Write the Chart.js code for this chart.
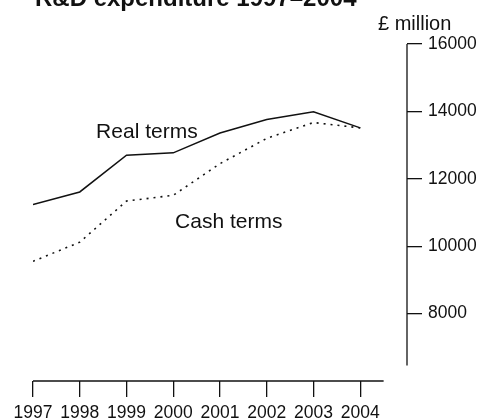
<!DOCTYPE html>
<html>
<head>
<meta charset="utf-8">
<script src="https://cdn.jsdelivr.net/npm/chart.js@4.4.1/dist/chart.umd.min.js"></script>
<style>
  html, body { margin: 0; padding: 0; background: #fff; }
  #wrap { width: 479px; height: 419px; position: relative; }
</style>
</head>
<body>
<div id="wrap"><canvas id="rdChart"></canvas></div>
<script>
const years = [1997, 1998, 1999, 2000, 2001, 2002, 2003, 2004];
const realTerms = [11240, 11610, 12700, 12770, 13360, 13760, 13990, 13510];
const cashTerms = [9550, 10120, 11340, 11510, 12450, 13200, 13670, 13510];
const yTicksShown = [8000, 10000, 12000, 14000, 16000];

const FONT = "'Liberation Sans', Arial, Helvetica, sans-serif";
const INK = "#111";

// where the two series names sit, in data units
const seriesNotes = [
  { text: "Real terms", x: 1998.35, y: 13210 },
  { text: "Cash terms", x: 2000.04, y: 10530 },
];

const toPoints = vals => years.map((yr, i) => ({ x: yr, y: vals[i] }));

const decorations = {
  id: "decorations",
  afterDraw(chart) {
    const { ctx, chartArea } = chart;
    const xs = chart.scales.x;
    const ys = chart.scales.y;
    ctx.save();
    ctx.strokeStyle = INK;
    ctx.lineWidth = 1.3;

    // x axis line, stops half a year after the last tick
    ctx.beginPath();
    ctx.moveTo(xs.getPixelForValue(1997), chartArea.bottom);
    ctx.lineTo(xs.getPixelForValue(2004.5), chartArea.bottom);
    ctx.stroke();

    // y axis line, stops short of the x axis
    ctx.beginPath();
    ctx.moveTo(chartArea.right, ys.getPixelForValue(16000));
    ctx.lineTo(chartArea.right, ys.getPixelForValue(6460));
    ctx.stroke();

    ctx.fillStyle = INK;
    ctx.textBaseline = "alphabetic";

    // title, partly cut off at the top as in the source
    ctx.font = "bold 24px " + FONT;
    ctx.textAlign = "left";
    ctx.fillText("R&D expenditure 1997\u20132004", 35, 6);

    ctx.font = "20px " + FONT;
    ctx.fillText("\u00a3 million", chartArea.right - 29, 30);

    ctx.font = "21px " + FONT;
    seriesNotes.forEach(n => {
      ctx.fillText(n.text, xs.getPixelForValue(n.x), ys.getPixelForValue(n.y));
    });
    ctx.restore();
  },
};

new Chart(document.getElementById("rdChart"), {
  type: "line",
  data: {
    datasets: [
      {
        label: "Real terms",
        data: toPoints(realTerms),
        borderColor: INK,
        borderWidth: 1.5,
        pointRadius: 0,
        tension: 0,
      },
      {
        label: "Cash terms",
        data: toPoints(cashTerms),
        borderColor: INK,
        borderWidth: 1.6,
        borderDash: [2, 5],
        pointRadius: 0,
        tension: 0,
      },
    ],
  },
  options: {
    responsive: true,
    maintainAspectRatio: false,
    animation: false,
    layout: { padding: { left: 33, top: 44, right: 0, bottom: 0 } },
    plugins: {
      legend: { display: false },
      tooltip: { enabled: false },
      title: { display: false },
    },
    scales: {
      x: {
        type: "linear",
        min: 1997,
        max: 2005,
        border: { display: false },
        grid: { drawOnChartArea: false, drawTicks: true, tickLength: 16, color: INK, lineWidth: 1.3 },
        ticks: {
          stepSize: 1,
          autoSkip: false,
          maxRotation: 0,
          padding: 6,
          color: INK,
          font: { family: FONT, size: 17.5 },
          callback: v => String(v),
        },
        afterBuildTicks: axis => {
          axis.ticks = years.map(v => ({ value: v }));
        },
        afterFit: scale => {
          scale.height = 38;
          scale.paddingLeft = 0;
          scale.paddingRight = 0;
        },
      },
      y: {
        position: "right",
        min: 6000,
        max: 16000,
        border: { display: false },
        grid: { drawOnChartArea: false, drawTicks: true, tickLength: 15, color: INK, lineWidth: 1.3 },
        ticks: {
          stepSize: 2000,
          padding: 6,
          color: INK,
          font: { family: FONT, size: 17.5 },
          callback: v => String(v),
        },
        afterBuildTicks: axis => {
          axis.ticks = yTicksShown.map(v => ({ value: v }));
        },
        afterFit: scale => {
          scale.width = 72;
          scale.paddingTop = 0;
          scale.paddingBottom = 0;
        },
      },
    },
  },
  plugins: [decorations],
});
</script>
</body>
</html>
